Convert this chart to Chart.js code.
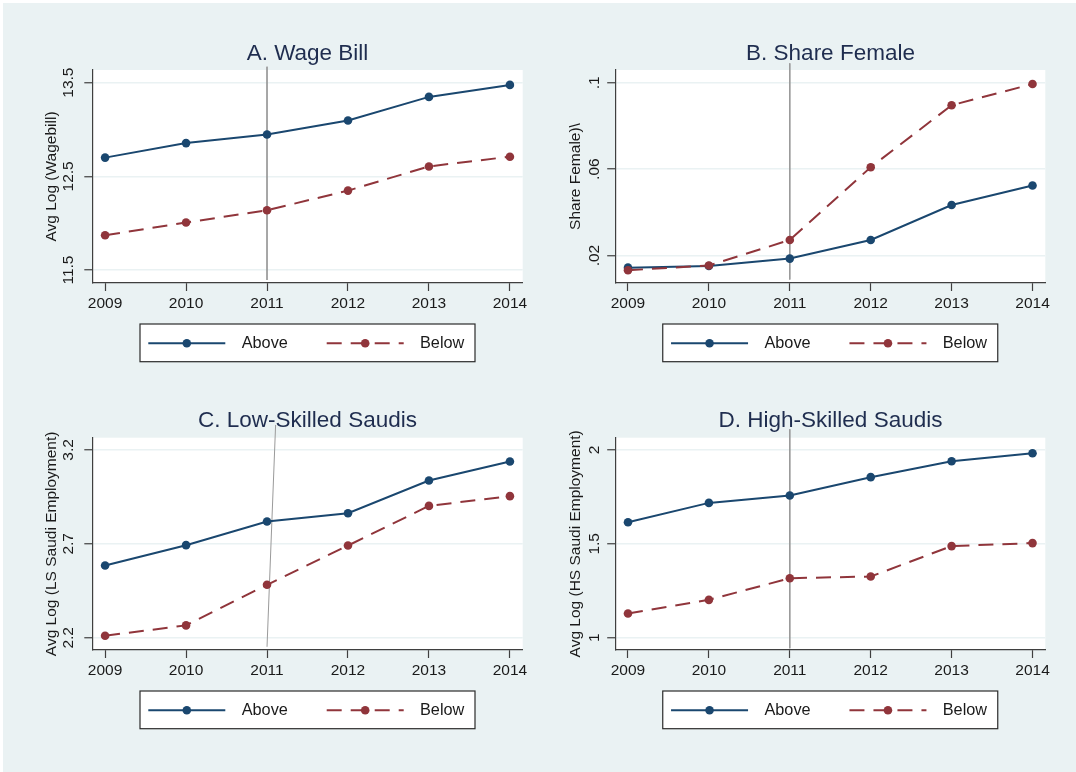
<!DOCTYPE html>
<html>
<head>
<meta charset="utf-8">
<script src="https://cdn.jsdelivr.net/npm/chart.js@4.4.1/dist/chart.umd.min.js"></script>
<style>
  html, body { margin: 0; padding: 0; background: #ffffff; width: 1076px; height: 772px; overflow: hidden; }
  #frame { position: absolute; left: 3px; top: 3px; width: 1073px; height: 769px; background: #EAF2F3; }
  canvas { position: absolute; }
</style>
</head>
<body>
<div id="frame"></div>
<canvas id="cA" width="615" height="368" style="left:0px;top:0px"></canvas>
<canvas id="cB" width="541" height="368" style="left:560px;top:0px"></canvas>
<canvas id="cC" width="615" height="367" style="left:0px;top:368px"></canvas>
<canvas id="cD" width="541" height="367" style="left:560px;top:368px"></canvas>
<script>
// ---- data ----
const years = [2009, 2010, 2011, 2012, 2013, 2014];

const wageAbove = [12.70, 12.855, 12.947, 13.096, 13.348, 13.476];
const wageBelow = [11.872, 12.007, 12.138, 12.348, 12.606, 12.71];

const femAbove = [0.0144, 0.0152, 0.0186, 0.0272, 0.0434, 0.0524];
const femBelow = [0.0132, 0.0154, 0.0272, 0.0609, 0.0896, 0.0994];

const lsAbove = [2.585, 2.693, 2.819, 2.863, 3.037, 3.138];
const lsBelow = [2.211, 2.266, 2.482, 2.691, 2.902, 2.954];

const hsAbove = [1.615, 1.718, 1.757, 1.855, 1.940, 1.982];
const hsBelow = [1.129, 1.202, 1.317, 1.326, 1.488, 1.504];

const wageTicks = [11.5, 12.5, 13.5];
const wageTickLabels = ['11.5', '12.5', '13.5'];
const femTicks = [0.02, 0.06, 0.1];
const femTickLabels = ['.02', '.06', '.1'];
const lsTicks = [2.2, 2.7, 3.2];
const lsTickLabels = ['2.2', '2.7', '3.2'];
const hsTicks = [1, 1.5, 2];
const hsTickLabels = ['1', '1.5', '2'];

// 2011 reference line end points (x = year, y = axis value)
const refWage = [{ x: 2011, y: 13.67 }, { x: 2011, y: 11.394 }];
const refFem = [{ x: 2011, y: 0.109 }, { x: 2011, y: 0.0089 }];
const refLs = [{ x: 2011.106, y: 3.333 }, { x: 2011, y: 2.152 }];
const refHs = [{ x: 2011, y: 2.11 }, { x: 2011, y: 0.944 }];

const seriesNames = ['Above', 'Below'];

// ---- styling ----
const FONT = '"Liberation Sans", Arial, Helvetica, sans-serif';
const NAVY = '#1A476F';
const MAROON = '#90353B';
const AXIS = '#3f3f3f';
const TEXT = '#1a1a1a';
const DASH = [15, 9];
const POINT_R = 4.3;

Chart.defaults.font.family = FONT;

// white plot region behind the grid
const plotBackground = {
  id: 'plotBackground',
  beforeDraw(chart) {
    const { ctx, chartArea: a } = chart;
    ctx.save();
    ctx.fillStyle = '#ffffff';
    ctx.fillRect(a.left, a.top, a.right - a.left, a.bottom - a.top);
    ctx.restore();
  }
};

// framed key below the x axis, centred under the plot
const LEGEND = {
  width: 335, height: 37.7, dy: 60.3, above: 19.3,
  sampleLen: 77,
  items: [ { sample: 8.3, text: 101.7 }, { sample: 186.7, text: 280 } ]
};
const framedKey = {
  id: 'framedKey',
  afterDraw(chart) {
    const { ctx, chartArea: a } = chart;
    const cx = (a.left + a.right) / 2;
    const cy = a.bottom + LEGEND.dy;
    const left = cx - LEGEND.width / 2;
    const top = cy - LEGEND.above;
    ctx.save();
    ctx.fillStyle = '#ffffff';
    ctx.fillRect(left, top, LEGEND.width, LEGEND.height);
    ctx.strokeStyle = '#2b2b2b';
    ctx.lineWidth = 1.2;
    ctx.strokeRect(left, top, LEGEND.width, LEGEND.height);
    chart.data.datasets.slice(0, seriesNames.length).forEach((ds, i) => {
      const it = LEGEND.items[i];
      const x0 = left + it.sample;
      ctx.strokeStyle = ds.borderColor;
      ctx.lineWidth = ds.borderWidth;
      ctx.setLineDash(ds.borderDash || []);
      ctx.beginPath(); ctx.moveTo(x0, cy); ctx.lineTo(x0 + LEGEND.sampleLen, cy); ctx.stroke();
      ctx.setLineDash([]);
      ctx.fillStyle = ds.borderColor;
      ctx.beginPath(); ctx.arc(x0 + LEGEND.sampleLen / 2, cy, POINT_R, 0, Math.PI * 2); ctx.fill();
      ctx.fillStyle = TEXT;
      ctx.font = '16.3px ' + FONT;
      ctx.textAlign = 'left';
      ctx.textBaseline = 'middle';
      ctx.fillText(ds.label, left + it.text, cy);
    });
    ctx.restore();
  }
};

function pts(arr) { return years.map((yr, i) => ({ x: yr, y: arr[i] })); }

function makePanel(id, cfg) {
  const canvas = document.getElementById(id);
  const W = canvas.width;
  const rightGap = W - cfg.yWidth - cfg.plotWidth;
  return new Chart(canvas, {
    type: 'line',
    data: {
      datasets: [
        { label: seriesNames[0], data: pts(cfg.above), yAxisID: 'y', borderColor: NAVY, backgroundColor: NAVY,
          pointBackgroundColor: NAVY, pointBorderWidth: 0, pointRadius: POINT_R, borderWidth: 2, order: 2 },
        { label: seriesNames[1], data: pts(cfg.below), yAxisID: 'y', borderColor: MAROON, backgroundColor: MAROON,
          pointBackgroundColor: MAROON, pointBorderWidth: 0, pointRadius: POINT_R, borderWidth: 2,
          borderDash: DASH, order: 1 },
        { label: '2011', data: cfg.ref, yAxisID: 'y', borderColor: '#9a9a9a', borderWidth: 1, pointRadius: 0,
          clip: false, order: 3 }
      ]
    },
    options: {
      responsive: false,
      animation: false,
      devicePixelRatio: 1,
      events: [],
      elements: { line: { tension: 0 } },
      layout: { padding: { left: 0, top: 0, right: 0, bottom: 55 } },
      plugins: {
        tooltip: { enabled: false },
        legend: { display: false },
        title: {
          display: true, text: cfg.title, color: '#1F2D4F',
          font: { size: 22.5, weight: 'normal', family: FONT },
          padding: { top: cfg.titleTop, bottom: cfg.titleBottom }
        }
      },
      scales: {
        x: {
          type: 'linear', min: 2008.842, max: 2014.158,
          afterBuildTicks: s => { s.ticks = years.map(v => ({ value: v })); },
          afterFit: s => { s.height = 30; },
          ticks: { callback: v => String(v), autoSkip: false, minRotation: 0, maxRotation: 0,
                   padding: 3.3, color: TEXT, font: { size: 15.5, family: FONT } },
          grid: { drawOnChartArea: false, drawTicks: true, tickLength: 8, tickColor: AXIS, tickWidth: 1.2 },
          border: { display: true, color: AXIS, width: 1.2 }
        },
        y: {
          type: 'linear', position: 'left', min: cfg.yMin, max: cfg.yMax,
          afterBuildTicks: s => { s.ticks = cfg.ticks.map(v => ({ value: v })); },
          afterFit: s => { s.width = cfg.yWidth; },
          ticks: { callback: (v, i) => cfg.tickLabels[i], minRotation: 90, maxRotation: 90,
                   crossAlign: 'center', padding: cfg.tickPad, color: TEXT,
                   font: { size: 15.5, family: FONT } },
          grid: { color: '#EAF2F3', lineWidth: 1.5, drawTicks: true, tickLength: 8,
                  tickColor: AXIS, tickWidth: 1.2 },
          border: { display: true, color: AXIS, width: 1.2 },
          title: { display: true, text: cfg.yTitle, color: TEXT,
                   font: { size: 15.5, family: FONT }, padding: { top: cfg.yTitlePad, bottom: 0 } }
        },
        // empty right-hand margin so the title stays centred over the plot
        margin: {
          type: 'linear', position: 'right', display: true,
          afterFit: s => { s.width = rightGap; },
          ticks: { display: false }, grid: { display: false }, border: { display: false }
        }
      }
    },
    plugins: [plotBackground, framedKey]
  });
}

makePanel('cA', {
  title: 'A. Wage Bill', yTitle: 'Avg Log (Wagebill)',
  above: wageAbove, below: wageBelow, ref: refWage,
  ticks: wageTicks, tickLabels: wageTickLabels, yMin: 11.362, yMax: 13.635,
  yWidth: 92.3, plotWidth: 430.4, tickPad: 0.3, yTitlePad: 42.7,
  titleTop: 40.4, titleBottom: 2.6
});
makePanel('cB', {
  title: 'B. Share Female', yTitle: 'Share Female)\\',
  above: femAbove, below: femBelow, ref: refFem,
  ticks: femTicks, tickLabels: femTickLabels, yMin: 0.0073, yMax: 0.1059,
  yWidth: 55.2, plotWidth: 430.1, tickPad: 1.7, yTitlePad: 6.6,
  titleTop: 40.4, titleBottom: 2.6
});
makePanel('cC', {
  title: 'C. Low-Skilled Saudis', yTitle: 'Avg Log (LS Saudi Employment)',
  above: lsAbove, below: lsBelow, ref: refLs,
  ticks: lsTicks, tickLabels: lsTickLabels, yMin: 2.135, yMax: 3.265,
  yWidth: 92.3, plotWidth: 430.4, tickPad: 4.6, yTitlePad: 42.4,
  titleTop: 39, titleBottom: 3.7
});
makePanel('cD', {
  title: 'D. High-Skilled Saudis', yTitle: 'Avg Log (HS Saudi Employment)',
  above: hsAbove, below: hsBelow, ref: refHs,
  ticks: hsTicks, tickLabels: hsTickLabels, yMin: 0.935, yMax: 2.065,
  yWidth: 55.2, plotWidth: 430.1, tickPad: 1.7, yTitlePad: 6.6,
  titleTop: 39, titleBottom: 3.7
});
</script>
</body>
</html>
